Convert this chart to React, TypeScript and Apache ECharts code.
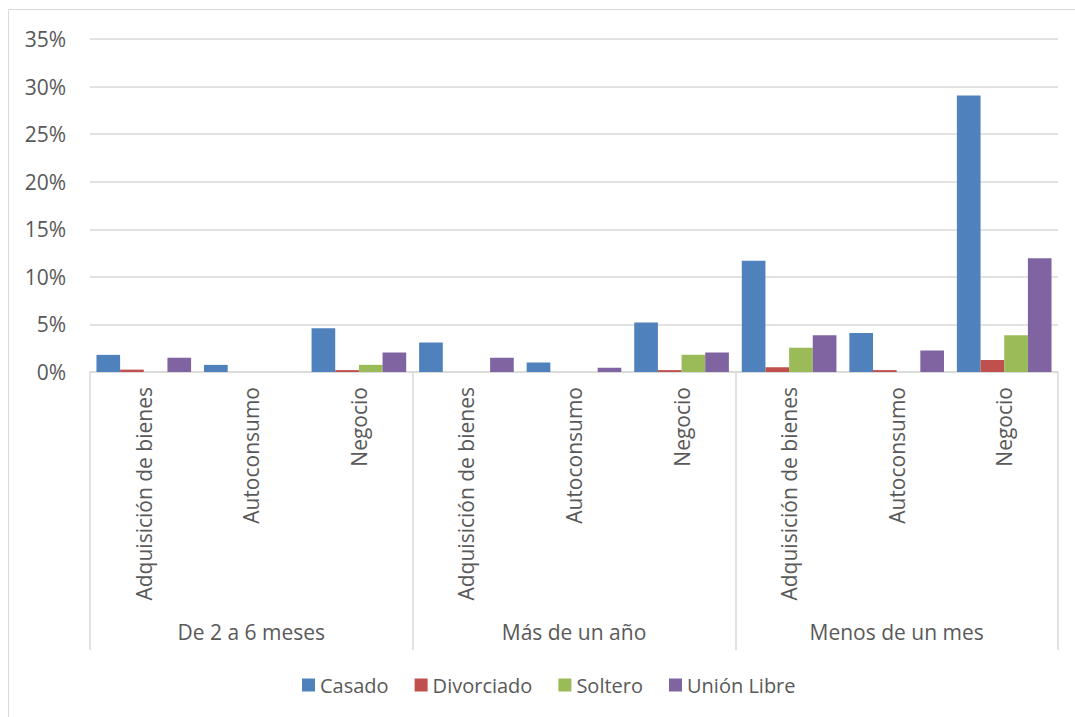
import React, { useEffect, useRef } from "react";
import * as echarts from "echarts";

// Sub-categories (purpose) repeated inside each time group
const subCategories = [
  "Adquisición de bienes", "Autoconsumo", "Negocio",
  "Adquisición de bienes", "Autoconsumo", "Negocio",
  "Adquisición de bienes", "Autoconsumo", "Negocio",
];
const groups = ["De 2 a 6 meses", "Más de un año", "Menos de un mes"];

// Shares in percent, one value per sub-category
const casado = [1.8, 0.75, 4.6, 3.1, 1.0, 5.2, 11.7, 4.1, 29.05];
const divorciado = [0.25, 0, 0.2, 0, 0, 0.2, 0.5, 0.2, 1.25];
const soltero = [0, 0, 0.75, 0, 0, 1.8, 2.55, 0, 3.85];
const unionLibre = [1.5, 0, 2.05, 1.5, 0.45, 2.05, 3.85, 2.25, 11.95];

const yTicks = { min: 0, max: 35, step: 5 };

const FONT = "'Open Sans', sans-serif";
const TEXT = "#595959";
const LINE = "#d9d9d9";

export default function App() {
  const ref = useRef<HTMLDivElement>(null);

  useEffect(() => {
    if (!ref.current) return;
    const chart = echarts.init(ref.current, undefined, { renderer: "svg" });
    const bar = (name: string, data: number[], color: string) => ({
      name,
      type: "bar",
      data: data.map((v) => (v === 0 ? null : v)),
      itemStyle: { color },
      barGap: "0%",
      barCategoryGap: "12%",
      xAxisIndex: 0,
    });
    chart.setOption({
      animation: false,
      textStyle: { fontFamily: FONT },
      graphic: [
        {
          type: "rect",
          shape: { x: 8.5, y: 9.5, width: 1200, height: 900 },
          style: { fill: "none", stroke: LINE, lineWidth: 1 },
          silent: true,
        },
      ],
      grid: { left: 90, right: 17, top: 39, bottom: 345, containLabel: false },
      legend: {
        left: 297,
        top: 670,
        itemWidth: 13,
        itemHeight: 13,
        itemGap: 26,
        icon: "rect",
        textStyle: { color: TEXT, fontSize: 20, fontFamily: FONT },
        data: ["Casado", "Divorciado", "Soltero", "Unión Libre"],
      },
      xAxis: [
        {
          type: "category",
          position: "bottom",
          data: subCategories,
          axisLine: { show: true, lineStyle: { color: LINE, width: 1.5 } },
          axisTick: { show: false },
          axisLabel: {
            interval: 0,
            rotate: 90,
            margin: 15,
            color: TEXT,
            fontSize: 21,
            fontFamily: FONT,
          },
        },
        {
          type: "category",
          position: "bottom",
          data: groups,
          axisLine: { show: false },
          axisTick: {
            show: true,
            length: 278,
            interval: 0,
            lineStyle: { color: LINE, width: 1.5 },
          },
          axisLabel: {
            interval: 0,
            margin: 249,
            color: TEXT,
            fontSize: 21,
            fontFamily: FONT,
          },
        },
      ],
      yAxis: {
        type: "value",
        min: yTicks.min,
        max: yTicks.max,
        interval: yTicks.step,
        axisLine: { show: false },
        axisTick: { show: false },
        splitLine: { lineStyle: { color: LINE, width: 1.5 } },
        axisLabel: {
          formatter: (v: number) => `${v}%`,
          margin: 24,
          color: TEXT,
          fontSize: 21,
          fontFamily: FONT,
        },
      },
      series: [
        bar("Casado", casado, "#4f81bd"),
        bar("Divorciado", divorciado, "#c0504d"),
        bar("Soltero", soltero, "#9bbb59"),
        bar("Unión Libre", unionLibre, "#8064a2"),
      ],
    });
    return () => chart.dispose();
  }, []);

  return (
    <div
      ref={ref}
      style={{ position: "fixed", left: 0, top: 0, width: 1075, height: 717, background: "#fff" }}
    />
  );
}
